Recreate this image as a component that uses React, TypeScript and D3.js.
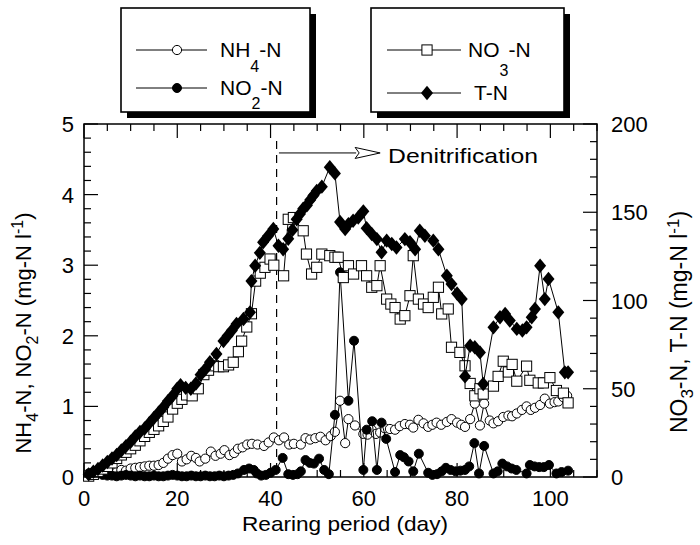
import React from 'react';
import * as d3 from 'd3';

const WIDTH = 700;
const HEIGHT = 545;
const FRAME = { left: 84, right: 597, top: 124, bottom: 477 };
const FONT = "'Liberation Sans', Arial, Helvetica, sans-serif";

// Axis domains and tick labels
const dayDomain: [number, number] = [0, 110];
const leftDomain: [number, number] = [0, 5];
const rightDomain: [number, number] = [0, 200];
const dayLabels = [0, 20, 40, 60, 80, 100];
const leftLabels = [0, 1, 2, 3, 4, 5];
const rightLabels = [0, 50, 100, 150, 200];

// NH4-N (mg-N/l, left axis): [day, value]
const nh4: [number, number][] = [
  [1, 0.05], [2, 0.07], [3, 0.08], [4, 0.06], [5, 0.05], [6, 0.04], [7, 0.07], [8, 0.1], [9, 0.09], [10, 0.12],
  [11, 0.13], [12, 0.14], [13, 0.15], [14, 0.16], [15, 0.16], [16, 0.17], [17, 0.2], [18, 0.26], [19, 0.31], [20, 0.33],
  [21, 0.22], [22, 0.25], [23, 0.3], [24, 0.27], [24.8, 0.22], [26, 0.26], [27.2, 0.36], [28.2, 0.3], [29.3, 0.33], [30.1, 0.38],
  [31.2, 0.31], [32.2, 0.34], [33, 0.4], [34, 0.42], [35, 0.46], [36, 0.47], [37.2, 0.46], [38.6, 0.44], [39.6, 0.49], [40.7, 0.56],
  [41.8, 0.52], [42.9, 0.56], [44, 0.46], [45, 0.47], [46.5, 0.46], [47.5, 0.55], [48.5, 0.53], [49.6, 0.55], [50.7, 0.57], [51.8, 0.52],
  [52.9, 0.58], [53.8, 0.64], [54.9, 1.08], [56, 0.48], [56.7, 0.82], [58.1, 0.73], [59.9, 0.61], [60.8, 0.6], [61.7, 0.67], [62.6, 0.61],
  [63.5, 0.63], [64.5, 0.69], [65.6, 0.68], [66.7, 0.67], [67.7, 0.72], [68.8, 0.75], [69.9, 0.74], [70.6, 0.7], [71.7, 0.81], [72.8, 0.76],
  [73.8, 0.71], [74.7, 0.74], [75.6, 0.77], [76.6, 0.74], [77.8, 0.78], [78.8, 0.82], [80, 0.77], [80.9, 0.74], [81.7, 0.71], [82.8, 0.82],
  [83.8, 1.04], [84.9, 0.73], [85.8, 1.04], [87, 0.8], [87.8, 0.76], [88.8, 0.79], [89.9, 0.85], [91, 0.87], [91.8, 0.86], [92.8, 0.9],
  [93.9, 0.95], [94.9, 1.0], [95.8, 0.95], [96.7, 0.98], [97.8, 1.02], [98.8, 1.11], [99.9, 1.04], [100.9, 1.06], [101.7, 1.07], [102.8, 1.13],
  [103.6, 1.15],
];

// NO2-N (mg-N/l, left axis)
const no2: [number, number][] = [
  [1, 0.04], [2, 0.06], [3, 0.05], [4, 0.03], [5, 0.02], [6, 0.02], [7, 0.01], [8, 0.02], [9, 0.03], [10, 0.02],
  [11, 0.01], [12, 0.02], [13, 0.01], [14, 0.01], [15, 0.02], [16, 0.01], [17, 0.01], [18, 0.02], [19, 0.03], [20, 0.02],
  [21, 0.01], [22, 0.01], [23, 0.02], [24, 0.01], [25, 0.01], [26, 0.02], [27, 0.01], [28, 0.01], [29, 0.02], [30, 0.01],
  [31, 0.02], [32, 0.03], [33, 0.05], [34.3, 0.1], [35.4, 0.12], [36.4, 0.1], [37.1, 0.05], [38, 0.02], [39, 0.03], [40, 0.06],
  [41.1, 0.1], [42.6, 0.27], [43.8, 0.04], [44.8, 0.03], [45.8, 0.04], [46.5, 0.08], [47.5, 0.24], [48.4, 0.2], [49.3, 0.19], [50.4, 0.26],
  [51.5, 0.1], [52.5, 0.04], [53.8, 0.88], [54.9, 2.9], [56.7, 1.08], [57.9, 1.93], [59.9, 0.1], [60.6, 0.67], [61.8, 0.79], [62.8, 0.1],
  [63.8, 0.77], [64.8, 0.54], [66.7, 0.07], [67.8, 0.31], [68.6, 0.28], [69.6, 0.22], [70.6, 0.08], [71.8, 0.33], [73.8, 0.06], [74.7, 0.03],
  [75.7, 0.04], [76.7, 0.08], [77.6, 0.13], [78.6, 0.1], [79.7, 0.08], [80.7, 0.09], [81.7, 0.1], [82.6, 0.15], [83.7, 0.48], [84.7, 0.05],
  [85.8, 0.44], [87.8, 0.05], [88.7, 0.08], [89.7, 0.19], [90.7, 0.15], [91.7, 0.12], [92.7, 0.1], [94.9, 0.05], [95.6, 0.17], [96.6, 0.15],
  [97.6, 0.14], [98.6, 0.14], [99.7, 0.17], [101.3, 0.05], [102.4, 0.07], [103.8, 0.09],
];

// NO3-N (mg-N/l, right axis)
const no3: [number, number][] = [
  [1, 0.5], [2, 1.5], [3, 3], [4, 4.5], [5, 6], [6, 8], [7, 10.5], [8, 12.5], [9, 14], [10, 16],
  [11, 18], [12, 20.5], [13, 23], [14, 25.3], [15, 27], [16, 29], [17, 31.5], [18, 34], [19, 38.5], [20, 41.8],
  [21, 44], [22, 46.5], [23.2, 46], [24.5, 50], [25.7, 58], [26.7, 60.5], [27.8, 63], [28.9, 62.5], [29.9, 62.5], [31, 63.5],
  [32, 65], [33.1, 71], [33.8, 77], [34.9, 85], [35.9, 92.5], [36.8, 111], [37.8, 115.5], [38.8, 118.8], [39.9, 123.5], [40.7, 120],
  [42.8, 114], [43.8, 146], [44.9, 147], [47, 139.5], [47.7, 126.3], [48.8, 115], [49.9, 118.8], [51, 126.3], [52.7, 125.4], [53.8, 124.5],
  [54.5, 124.5], [55.6, 113], [56.7, 119.7], [57.8, 115], [59.5, 119.7], [60.6, 114], [61.7, 107.5], [62.8, 108.4], [63.5, 119.7], [64.9, 100.8],
  [65.8, 98], [66.7, 96], [67.8, 89.5], [68.8, 91.4], [69.9, 102.7], [70.6, 125.4], [71.7, 100.8], [72.8, 98], [73.8, 96], [74.9, 101.8],
  [76, 107.5], [76.7, 92.4], [78.1, 95.2], [78.8, 73.5], [80.6, 70.6], [81.7, 63], [82.8, 53], [83.8, 46], [84.9, 50], [85.6, 47],
  [87.8, 51.5], [88.8, 57], [89.9, 65.6], [91, 59.5], [91.8, 63.8], [92.8, 54.3], [94.9, 62.8], [95.6, 54.8], [97.4, 53.3], [98.5, 53.3],
  [99.9, 56.3], [101.3, 49], [102.8, 47.5], [103.8, 42],
];

// T-N (mg-N/l, right axis)
const tn: [number, number][] = [
  [1, 1.5], [2, 3], [3, 4.5], [4, 6.5], [5, 8.5], [6, 10.5], [7, 12.5], [8, 15], [9, 17.5], [10, 20],
  [11, 23], [12, 25.5], [13, 27.5], [14, 30.5], [15, 33.5], [16, 36.5], [17, 39.5], [18, 43], [19, 46], [20, 50],
  [20.7, 52], [21.8, 50.5], [22.9, 50], [24, 53], [25, 58], [26, 61], [27, 65], [28.4, 69.7], [29.9, 77], [30.8, 80],
  [31.7, 83], [32.7, 86.7], [34.2, 89.5], [35.6, 93.3], [35.9, 111], [36.7, 119.7], [37.7, 127], [38.4, 133], [39.5, 136.7], [40.6, 140.5],
  [41.7, 131], [42.7, 129], [43.8, 135], [44.7, 140], [45.6, 146], [46.3, 149], [47, 152], [47.8, 154], [48.5, 157], [49.2, 159.5],
  [49.9, 162], [51, 164.5], [52.7, 175.5], [53.8, 172], [54.9, 144.5], [56, 140.5], [56.7, 143.3], [57.7, 145.2], [58.8, 147], [59.9, 150.5],
  [60.6, 141], [61.7, 137.7], [62.8, 134.8], [63.8, 127.3], [64.9, 133.9], [66, 132], [67, 130], [68.8, 134.8], [69.9, 133], [71, 129],
  [72, 139.5], [73.1, 136.7], [74.9, 133.9], [76, 129], [77.8, 114], [78.8, 109.3], [80, 104], [81, 100.8], [81.7, 57], [82.8, 74.4],
  [83.8, 73.5], [84.9, 70.6], [85.6, 52.7], [87.8, 84.8], [89.2, 90.5], [90.3, 92.4], [91.3, 88.6], [92.8, 83.9], [94, 83], [94.9, 84.8],
  [96, 90.5], [96.7, 95.2], [97.8, 119.7], [98.8, 100.8], [99.6, 112.2], [101.7, 93.3], [103.1, 59.3], [103.8, 59.3],
];

// Start of the denitrification phase and its annotation arrow
const denitrificationDay = 41.3;
const dashTopLevel = 4.76;
const arrowStartDay = 41.8;
const arrowEndDay = 63.5;
const arrowLevel = 4.59;
const annotationDay = 65.2;

const x = d3.scaleLinear().domain(dayDomain).range([FRAME.left, FRAME.right]);
const yL = d3.scaleLinear().domain(leftDomain).range([FRAME.bottom, FRAME.top]);
const yR = d3.scaleLinear().domain(rightDomain).range([FRAME.bottom, FRAME.top]);

const MAJOR = 14;
const MINOR = 7;

const diamondPath = 'M0,-7.2L6,0L0,7.2L-6,0Z';

type MarkerKind = 'openCircle' | 'filledCircle' | 'square' | 'diamond';

function Marker({ kind, cx, cy }: { kind: MarkerKind; cx: number; cy: number }) {
  if (kind === 'openCircle') return <circle cx={cx} cy={cy} r={4.6} fill="#fff" stroke="#000" strokeWidth={1} />;
  if (kind === 'filledCircle') return <circle cx={cx} cy={cy} r={4.5} fill="#000" stroke="#000" strokeWidth={1} />;
  if (kind === 'square') return <rect x={cx - 5.1} y={cy - 5.1} width={10.2} height={10.2} fill="#fff" stroke="#000" strokeWidth={1} />;
  return <path d={diamondPath} transform={`translate(${cx},${cy})`} fill="#000" />;
}

function Series({ data, y, kind }: { data: [number, number][]; y: d3.ScaleLinear<number, number>; kind: MarkerKind }) {
  const line = d3.line<[number, number]>().x((d) => x(d[0])).y((d) => y(d[1]));
  return (
    <g>
      <path d={line(data) || ''} fill="none" stroke="#000" strokeWidth={1} />
      {data.map((d, i) => (
        <Marker key={i} kind={kind} cx={x(d[0])} cy={y(d[1])} />
      ))}
    </g>
  );
}

function LegendBox({ x0, y0, w, h, children }: { x0: number; y0: number; w: number; h: number; children: React.ReactNode }) {
  return (
    <g>
      <rect x={x0 + 6} y={y0 + 6} width={w} height={h} fill="#000" />
      <rect x={x0} y={y0} width={w} height={h} fill="#fff" stroke="#000" strokeWidth={1.6} />
      {children}
    </g>
  );
}

export default function App() {
  const dayTicks = d3.range(0, 111, 5);
  const leftTicks = d3.range(0, 26).map((i) => i * 0.2);
  const rightTicks = d3.range(0, 201, 10);

  const ax = x(arrowStartDay);
  const ah = x(arrowEndDay);
  const ay = yL(arrowLevel);

  return (
    <svg width={WIDTH} height={HEIGHT} style={{ position: 'absolute', left: 0, top: 0, background: '#fff' }} fontFamily={FONT}>
      <rect x={0} y={0} width={WIDTH} height={HEIGHT} fill="#fff" />

      {/* Legends */}
      <LegendBox x0={121} y0={8} w={189} h={104}>
        <line x1={136} x2={207} y1={50} y2={50} stroke="#000" strokeWidth={1} />
        <Marker kind="openCircle" cx={177} cy={50} />
        <text x={220} y={57} fontSize={21}>
          NH<tspan dy={15} fontSize={16}>4</tspan>
          <tspan dy={-15}>-N</tspan>
        </text>
        <line x1={136} x2={207} y1={88} y2={88} stroke="#000" strokeWidth={1} />
        <Marker kind="filledCircle" cx={177} cy={88} />
        <text x={220} y={95} fontSize={21}>
          NO<tspan dy={14} fontSize={16}>2</tspan>
          <tspan dy={-14}>-N</tspan>
        </text>
      </LegendBox>
      <LegendBox x0={371} y0={8} w={193} h={104}>
        <line x1={387} x2={461} y1={50} y2={50} stroke="#000" strokeWidth={1} />
        <Marker kind="square" cx={427} cy={50} />
        <text x={468} y={57} fontSize={21}>
          NO<tspan dy={19} fontSize={16}>3</tspan>
          <tspan dy={-19}>-N</tspan>
        </text>
        <line x1={387} x2={461} y1={93} y2={93} stroke="#000" strokeWidth={1} />
        <Marker kind="diamond" cx={427} cy={93} />
        <text x={474} y={100} fontSize={21}>T-N</text>
      </LegendBox>

      {/* Ticks */}
      <g stroke="#000" strokeWidth={1.2}>
        {dayTicks.map((d) => {
          const len = d % 20 === 0 ? MAJOR : MINOR;
          return (
            <g key={`d${d}`}>
              <line x1={x(d)} x2={x(d)} y1={FRAME.bottom} y2={FRAME.bottom - len} />
              <line x1={x(d)} x2={x(d)} y1={FRAME.top} y2={FRAME.top + len} />
            </g>
          );
        })}
        {leftTicks.map((v, i) => {
          const len = i % 5 === 0 ? MAJOR : MINOR;
          return <line key={`l${i}`} x1={FRAME.left} x2={FRAME.left + len} y1={yL(v)} y2={yL(v)} />;
        })}
        {rightTicks.map((v) => {
          const len = v % 50 === 0 ? MAJOR : MINOR;
          return <line key={`r${v}`} x1={FRAME.right} x2={FRAME.right - len} y1={yR(v)} y2={yR(v)} />;
        })}
      </g>

      {/* Tick labels */}
      <g fontSize={22} fill="#000">
        {dayLabels.map((d) => (
          <text key={`dl${d}`} x={x(d)} y={506} textAnchor="middle">{d}</text>
        ))}
        {leftLabels.map((v) => (
          <text key={`ll${v}`} x={74} y={yL(v) + 8} textAnchor="end">{v}</text>
        ))}
        {rightLabels.map((v) => (
          <text key={`rl${v}`} x={611} y={yR(v) + 8} textAnchor="start">{v}</text>
        ))}
      </g>

      {/* Axis titles */}
      <text x={345} y={531} fontSize={21} textAnchor="middle" textLength={206} lengthAdjust="spacingAndGlyphs">
        Rearing period (day)
      </text>
      <text transform="translate(31,333) rotate(-90)" fontSize={22} textAnchor="middle">
        NH<tspan dy={7} fontSize={16}>4</tspan>
        <tspan dy={-7}>-N, NO</tspan>
        <tspan dy={7} fontSize={16}>2</tspan>
        <tspan dy={-7}>-N (mg-N l</tspan>
        <tspan dy={-8} fontSize={16}>-1</tspan>
        <tspan dy={8}>)</tspan>
      </text>
      <text transform="translate(687,322) rotate(-90)" fontSize={23} textAnchor="middle">
        NO<tspan dy={6} fontSize={17}>3</tspan>
        <tspan dy={-6}>-N, T-N (mg-N l</tspan>
        <tspan dy={-8} fontSize={17}>-1</tspan>
        <tspan dy={8}>)</tspan>
      </text>

      {/* Denitrification marker */}
      <line
        x1={x(denitrificationDay)}
        x2={x(denitrificationDay)}
        y1={yL(dashTopLevel)}
        y2={FRAME.bottom}
        stroke="#000"
        strokeWidth={1.2}
        strokeDasharray="8,6"
      />
      <line x1={ax} x2={ah - 24} y1={ay} y2={ay} stroke="#000" strokeWidth={1} />
      <path
        d={`M${ah - 25},${ay - 5.5}L${ah},${ay}L${ah - 25},${ay + 5.5}L${ah - 21},${ay}Z`}
        fill="#fff"
        stroke="#000"
        strokeWidth={1}
      />
      <text x={x(annotationDay)} y={163} fontSize={21} textLength={150} lengthAdjust="spacingAndGlyphs">
        Denitrification
      </text>

      {/* Data */}
      <Series data={nh4} y={yL} kind="openCircle" />
      <Series data={no2} y={yL} kind="filledCircle" />
      <Series data={no3} y={yR} kind="square" />
      <Series data={tn} y={yR} kind="diamond" />

      {/* Frame */}
      <rect
        x={FRAME.left}
        y={FRAME.top}
        width={FRAME.right - FRAME.left}
        height={FRAME.bottom - FRAME.top}
        fill="none"
        stroke="#000"
        strokeWidth={1.5}
      />
    </svg>
  );
}
